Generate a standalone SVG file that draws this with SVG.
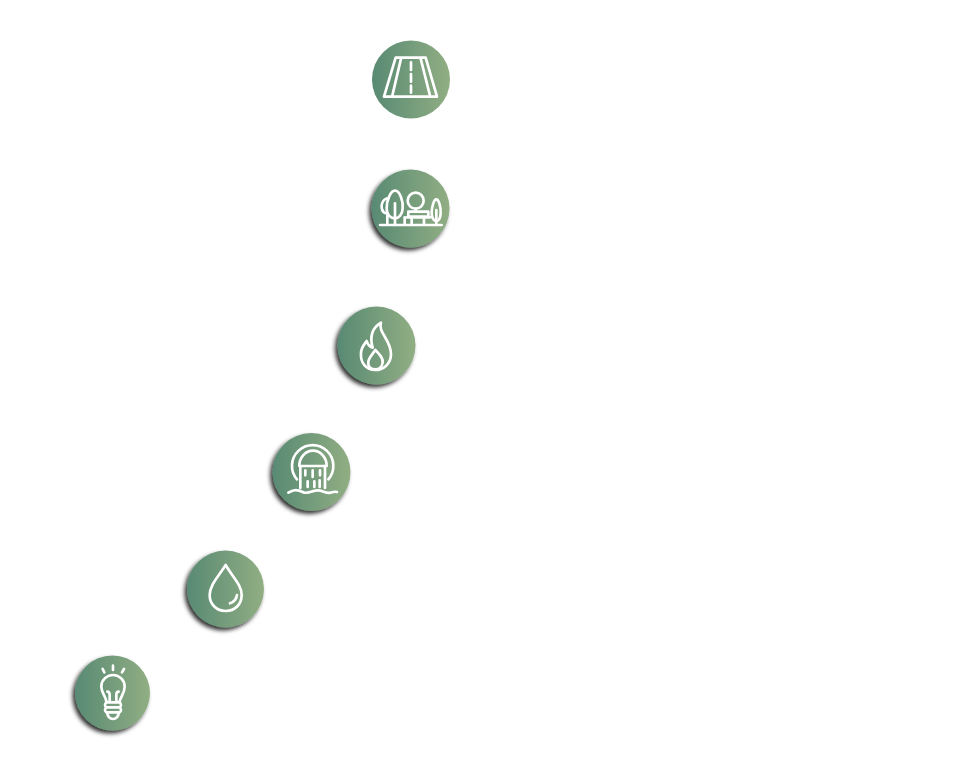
<svg xmlns="http://www.w3.org/2000/svg" width="955" height="768" viewBox="0 0 955 768">
<defs>
<linearGradient id="disc"><stop offset="0" stop-color="#588a73"/><stop offset="1" stop-color="#91ae83"/></linearGradient>
<filter id="sh" x="-30%" y="-30%" width="160%" height="160%"><feDropShadow dx="-2.5" dy="3" stdDeviation="2" flood-color="#000" flood-opacity="0.8"/></filter>
</defs>
<style>
.disc{fill:url(#disc)}
.shadow{filter:url(#sh)}
.icon{fill:none;stroke:#fff;stroke-width:8;stroke-linecap:round;stroke-linejoin:round}
</style>
<rect width="955" height="768" fill="#fff"/>
<g id="node-road">
<circle class="disc" cx="411" cy="79.5" r="39"/>
<g class="icon" transform="translate(360 30) scale(.3333)"><path d="M107 83H197L231 200H72Z"/><path d="M123 86L97 197M182 86L210 197"/><path d="M153 97V120M153 132V155M153 167V188"/></g>
</g>
<g id="node-park">
<circle class="disc shadow" cx="410.5" cy="208.5" r="39"/>
<g class="icon" transform="translate(360 160) scale(.3333)"><path d="M105 92C120 92 130 125 128 145C127 165 115 175 105 175C92 175 80 165 80 145C80 120 92 92 105 92Z"/><path d="M105 130V195"/><path d="M80 115C70 120 64 130 65 142C66 152 72 160 82 160M82 160V193"/><circle cx="167" cy="122" r="24"/><path d="M167 147V155"/><path d="M145 155H205V170H145ZM140 172H210M155 172V193M192 172V193"/><path d="M134 193V172"/><path d="M229 118C236 118 243 140 242 160C241 175 236 183 229 183C222 183 215 175 215 160C215 140 222 118 229 118Z"/><path d="M229 150V195"/><path d="M60 195H245"/></g>
</g>
<g id="node-fire">
<circle class="disc shadow" cx="376.5" cy="345.5" r="39"/>
<g class="icon" transform="translate(326 296) scale(.3333)"><path d="M165 80C155 110 195 130 195 175C195 205 170 222 148 222C120 222 103 200 105 172C105 155 115 145 122 135C125 145 130 152 140 155C130 120 140 95 165 80Z"/><path d="M148 162C160 175 172 185 170 200C168 213 158 220 148 220C135 220 125 212 127 198C128 185 140 175 148 162Z"/></g>
</g>
<g id="node-pipe">
<circle class="disc shadow" cx="311.5" cy="472" r="39"/>
<g class="icon" transform="translate(261 422) scale(.3333)"><path d="M108 172A62 62 0 1 1 202 172"/><path d="M115 132A41 46 0 0 1 197 132H115"/><path d="M118 132V198M192 132V198"/><path d="M133 145V160M155 145V165M177 145V160M140 178V195M160 178V195M176 175V195"/><path d="M82 212C95 205 105 200 125 210C140 218 155 205 170 205C185 205 195 215 208 212C215 210 222 208 228 210"/></g>
</g>
<g id="node-drop">
<circle class="disc shadow" cx="225.5" cy="589" r="38.5"/>
<g class="icon" transform="translate(175 540) scale(.3333)"><path d="M152 75C130 110 104 135 104 165C104 193 125 213 152 213C180 213 200 193 200 165C200 135 172 110 152 75Z"/><path d="M165 190C175 187 184 177 186 165"/></g>
</g>
<g id="node-bulb">
<circle class="disc shadow" cx="112.5" cy="693" r="37.5"/>
<g class="icon" transform="translate(62 645) scale(.3333)"><path d="M122 72L127 82M153 62V75M186 72L180 82"/><path d="M133 170C133 155 118 145 118 125A35 35 0 1 1 188 125C188 145 175 155 173 170"/><path d="M143 170V150Q143 140 136 140M163 170V150Q163 140 170 140"/><path d="M133 172H173M133 172Q125 180 133 187H173Q181 180 173 172M133 187Q125 195 133 202H173Q181 195 173 187"/><path d="M135 202C137 215 145 222 153 222C161 222 169 215 171 202"/></g>
</g>
</svg>
